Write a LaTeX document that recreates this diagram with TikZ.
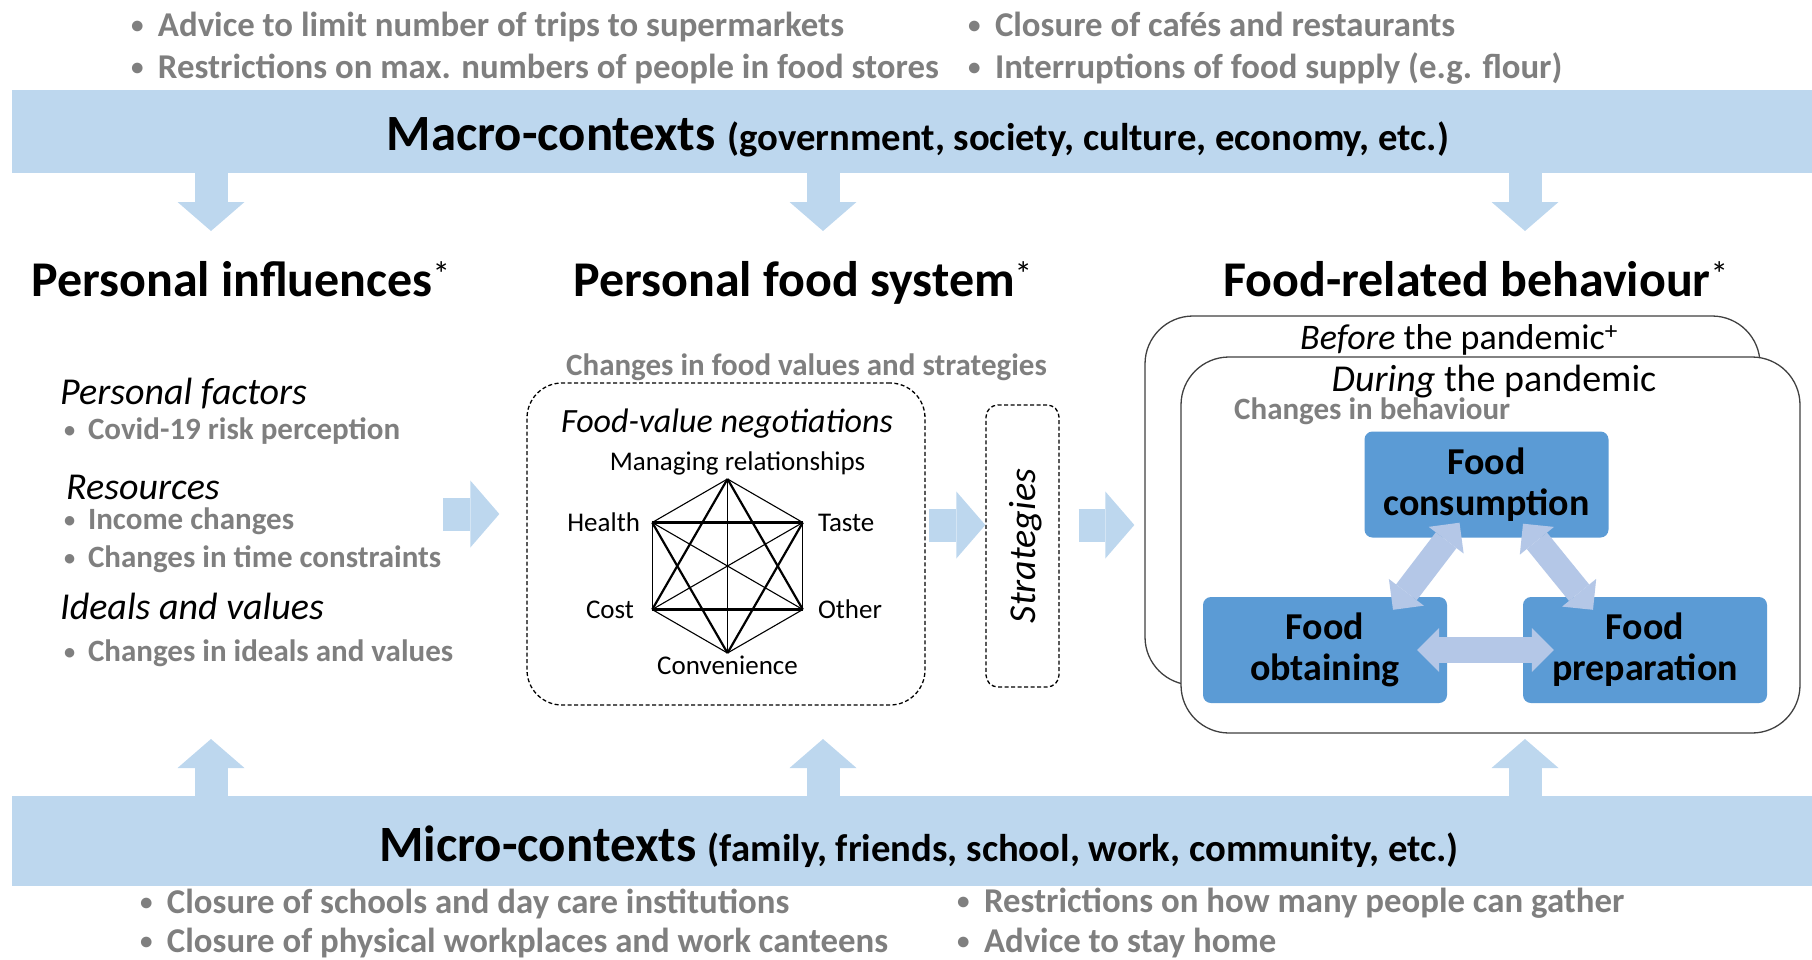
\documentclass[tikz,border=0pt]{standalone}
\usepackage{graphicx}
\usepackage{fontspec}
\setmainfont{Carlito}
\usetikzlibrary{arrows.meta, positioning, calc}
\definecolor{bandblue}{HTML}{BDD7EE}
\definecolor{boxblue}{HTML}{5B9BD5}
\definecolor{linkblue}{HTML}{B4C7E7}
\definecolor{txtgray}{HTML}{7F7F7F}
\newcommand{\itm}{\makebox[0.77em][l]{\raisebox{0.06em}{\scalebox{0.72}{\textbullet}}}}
\newcommand{\fnstar}{\textsuperscript{\mdseries *}}

\begin{document}
\begin{tikzpicture}[x=1pt, y=-1pt,
  band/.style={fill=bandblue, minimum width=1800pt, minimum height=83pt, inner sep=0pt},
  bigarr/.style={draw=bandblue, line width=33pt, -{Triangle[width=67pt, length=29pt, line width=0pt]}},
  linkarr/.style={draw=linkblue, line width=26pt, {Triangle[width=44pt, length=22pt, line width=0pt]}-{Triangle[width=44pt, length=22pt, line width=0pt]}},
  colhead/.style={anchor=base west, inner sep=0pt, font=\fontsize{50}{60}\selectfont\bfseries},
  ctxnote/.style={anchor=base west, inner sep=0pt, text=txtgray, font=\fontsize{34.8}{40}\selectfont\bfseries},
  subhead/.style={anchor=base west, inner sep=0pt, font=\fontsize{38}{44}\selectfont\itshape},
  grynote/.style={anchor=base west, inner sep=0pt, text=txtgray, font=\fontsize{31}{36}\selectfont\bfseries},
  val/.style={inner sep=0pt, font=\fontsize{27}{32}\selectfont},
  dashbox/.style={draw, line width=1.3pt, dash pattern=on 4pt off 2.5pt},
  phasebox/.style={draw=black!75, line width=1.3pt, fill=white, rounded corners=48pt},
  actbox/.style={fill=boxblue, rounded corners=8pt, minimum width=244pt, minimum height=106pt, align=center, inner sep=0pt, font=\fontsize{38}{41}\selectfont\bfseries},
]
\useasboundingbox (0,0) rectangle (1812,959);

\node[ctxnote] (m1) at (131,36) {\itm Advice to limit number of trips to supermarkets};
\node[ctxnote] (m2) at (131,78) {\itm Restrictions on max. numbers of people in food stores};
\node[ctxnote] (m3) at (968,36) {\itm Closure of cafés and restaurants};
\node[ctxnote] (m4) at (968,78) {\itm Interruptions of food supply (e.g. flour)};

\node[band] (macro) at (912,131.5) {};
\node[anchor=base, inner sep=0pt, font=\bfseries] (macrotxt) at (918,150)
  {\fontsize{50.8}{60}\selectfont Macro-contexts \fontsize{38.7}{44}\selectfont(government, society, culture, economy, etc.)};

\node[band, minimum height=90pt] (micro) at (912,841) {};
\node[anchor=base, inner sep=0pt, font=\bfseries] (microtxt) at (919,861)
  {\fontsize{50.9}{60}\selectfont Micro-contexts \fontsize{38.7}{44}\selectfont(family, friends, school, work, community, etc.)};

\foreach \x [count=\i] in {211,823,1525} {
  \coordinate (dn\i) at (\x,231);
  \coordinate (up\i) at (\x,739);
  \draw[bigarr] (macro.south -| dn\i) -- (dn\i);
  \draw[bigarr] (micro.north -| up\i) -- (up\i);
}

\node[colhead] (pinf) at (31,296) {Personal influences\fnstar};
\node[colhead] (pfs) at (573,296) {Personal food system\fnstar};
\node[colhead] (frb) at (1223,296) {Food-related behaviour\fnstar};

\node[subhead] (pf) at (60,404) {Personal factors};
\node[grynote] (pf1) at (64,439) {\itm Covid-19 risk perception};
\node[subhead] (res) at (66,499) {Resources};
\node[grynote] (res1) at (64,529) {\itm Income changes};
\node[grynote] (res2) at (64,567) {\itm Changes in time constraints};
\node[subhead] (idv) at (60,619) {Ideals and values};
\node[grynote] (idv1) at (64,661) {\itm Changes in ideals and values};

\node[grynote] (fvs) at (566,375) {Changes in food values and strategies};
\node[dashbox, rounded corners=35pt, minimum width=398pt, minimum height=322pt] (fvn) at (726,544) {};
\node[anchor=base, inner sep=0pt, font=\fontsize{34}{40}\selectfont\itshape] (fvntit) at (727,432) {Food-value negotiations};

\coordinate (mr) at (727.5,479);
\coordinate (cv) at (727.5,653);
\coordinate (he) at (652.2,522.5);
\coordinate (ta) at (802.8,522.5);
\coordinate (co) at (652.2,609.5);
\coordinate (ot) at (802.8,609.5);
\foreach \p/\q in {mr/co, co/ot, ot/mr, cv/he, he/ta, ta/cv}
  \draw[line width=2.2pt] (\p) -- (\q);
\foreach \p/\q in {mr/he, he/co, co/cv, cv/ot, ot/ta, ta/mr, mr/cv, he/ot, ta/co}
  \draw[line width=1.1pt] (\p) -- (\q);

\node[val, anchor=south] (mrl) at ([shift={(10,-4)}]mr) {Managing relationships};
\node[val, anchor=east] (hel) at ([xshift=-12pt]he) {Health};
\node[val, anchor=west] (tal) at ([xshift=15pt]ta) {Taste};
\node[val, anchor=east] (col) at ([xshift=-18pt]co) {Cost};
\node[val, anchor=west] (otl) at ([xshift=15pt]ot) {Other};
\node[val, anchor=north] (cvl) at ([yshift=-3pt]cv) {Convenience};

\node[dashbox, rounded corners=12pt, minimum width=73pt, minimum height=282pt] (strat) at (1022.5,546) {};
\node[rotate=90, inner sep=0pt, font=\fontsize{38}{44}\selectfont\itshape] (strattxt) at ([xshift=3pt]strat.center) {Strategies};

\node[phasebox, minimum width=615pt, minimum height=369pt] (back) at (1452.5,500.5) {};
\node[anchor=base, inner sep=0pt, font=\fontsize{36}{42}\selectfont] (beftxt) at (1459,349) {\textit{Before} the pandemic\textsuperscript{+}};
\node[phasebox, minimum width=619pt, minimum height=376pt] (front) at (1490.5,545) {};
\node[anchor=base, inner sep=0pt, font=\fontsize{38}{44}\selectfont] (durtxt) at (1494,391) {\textit{During} the pandemic};
\node[grynote] (chb) at (1234,419) {Changes in behaviour};

\node[actbox] (cons) at (1486.5,484.5) {Food\\consumption};
\node[actbox] (obt) at (1325,650) {Food\\obtaining};
\node[actbox] (prep) at (1645,650) {Food\\preparation};

\draw[linkarr] ([xshift=-30pt]obt.east) -- ([xshift=31pt]prep.west);
\draw[linkarr] ($(cons.south)+(-27,-15)$) -- ($(obt.north)+(68,13)$);
\draw[linkarr] ($(cons.south)+(36.5,-14)$) -- ($(prep.north)+(-52,13)$);

\coordinate (pin) at (443,514);
\coordinate (mid) at (0,525);
\draw[bigarr] (pin) -- ($(fvn.west |- pin)+(-27,0)$);
\draw[bigarr, shorten <=3pt] (fvn.east |- mid) -- (strat.west |- mid);
\draw[bigarr, shorten <=19pt, shorten >=10pt] (strat.east |- mid) -- (back.west |- mid);

\node[ctxnote] (n1) at (140,913) {\itm Closure of schools and day care institutions};
\node[ctxnote] (n2) at (140,952) {\itm Closure of physical workplaces and work canteens};
\node[ctxnote] (n3) at (957,912) {\itm Restrictions on how many people can gather};
\node[ctxnote] (n4) at (957,952) {\itm Advice to stay home};
\end{tikzpicture}
\end{document}
